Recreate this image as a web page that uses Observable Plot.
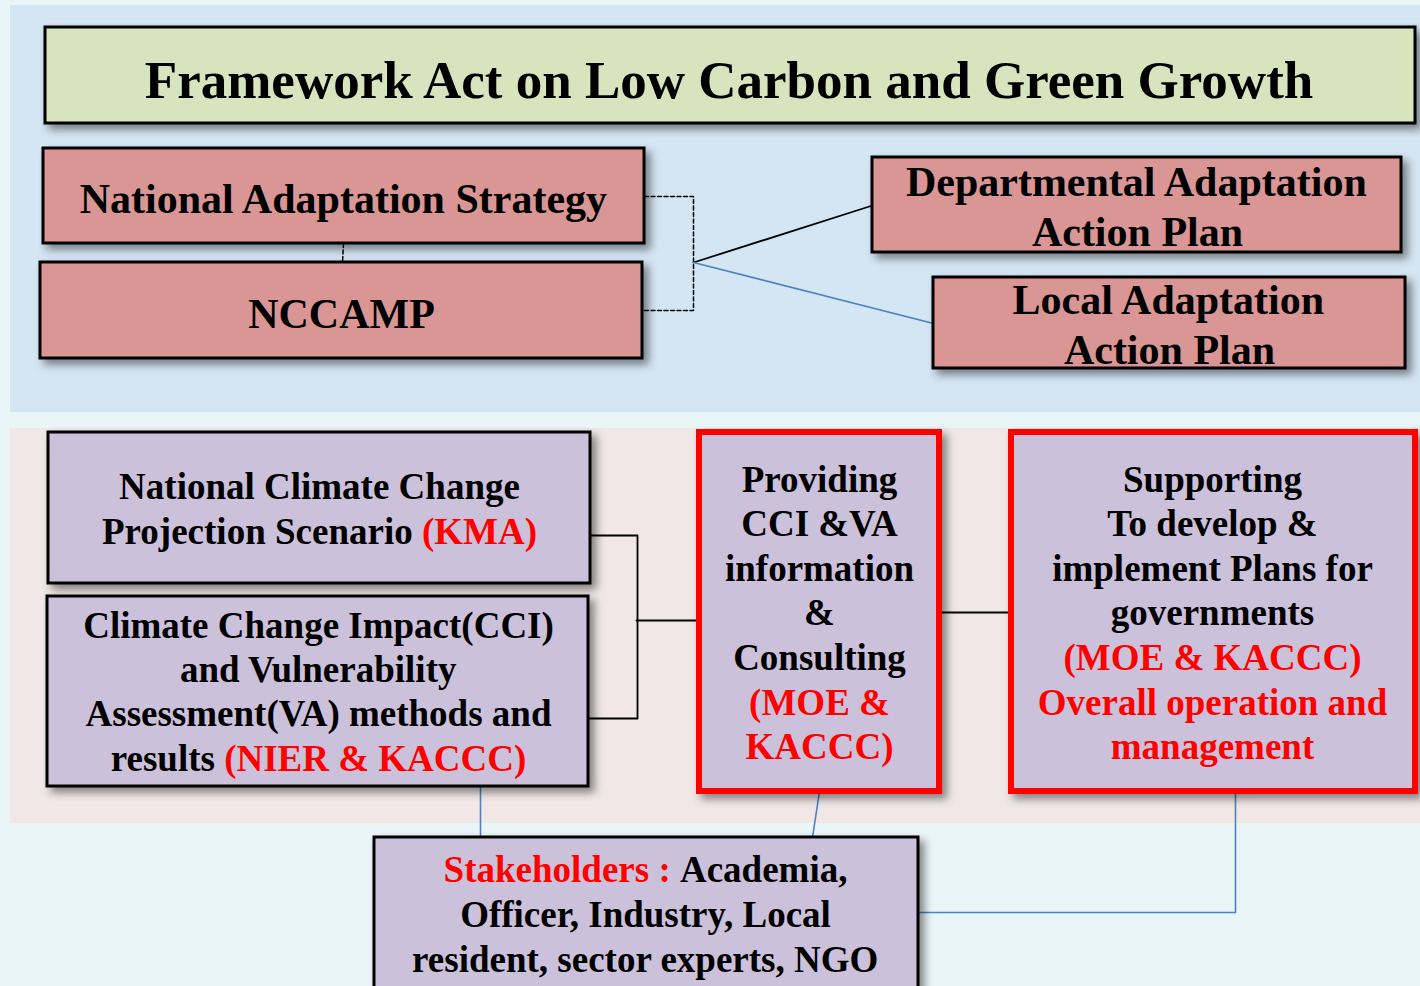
<!DOCTYPE html>
<html>
<head>
<meta charset="utf-8">
<script src="https://cdn.jsdelivr.net/npm/d3@7"></script>
<script src="https://cdn.jsdelivr.net/npm/@observablehq/plot@0.6"></script>
<style>
  html, body { margin: 0; padding: 0; background: #e8f4f6; overflow: hidden; }
  #chart svg { display: block; }
</style>
</head>
<body>
<div id="chart"></div>
<script>
const FONT = "'Liberation Serif','Times New Roman',serif";
const BLACK = "#000000", RED = "#ff0000", BLUE = "#4f81bd";

// Background panels
const panels = [
  {x1: 0, x2: 1420, y1: 0, y2: 986, fill: "#eaf5f7"},
  {x1: 10, x2: 1420, y1: 5, y2: 412, fill: "#d4e5f3"},
  {x1: 10, x2: 1420, y1: 428, y2: 823, fill: "#f1e7e7"}
];

// Boxes of the diagram
const boxes = [
  {id: "title",  x1: 45,   x2: 1415, y1: 27,  y2: 123, fill: "#d7e4bd", stroke: BLACK, sw: 3},
  {id: "nas",    x1: 43,   x2: 644,  y1: 148, y2: 243, fill: "#d99694", stroke: BLACK, sw: 3},
  {id: "nccamp", x1: 40,   x2: 642,  y1: 262, y2: 358, fill: "#d99694", stroke: BLACK, sw: 3},
  {id: "daap",   x1: 872,  x2: 1401, y1: 157, y2: 252, fill: "#d99694", stroke: BLACK, sw: 3},
  {id: "laap",   x1: 933,  x2: 1405, y1: 277, y2: 368, fill: "#d99694", stroke: BLACK, sw: 3},
  {id: "nccps",  x1: 48,   x2: 590,  y1: 432, y2: 583, fill: "#ccc1da", stroke: BLACK, sw: 3},
  {id: "cci",    x1: 47,   x2: 588,  y1: 596, y2: 786, fill: "#ccc1da", stroke: BLACK, sw: 3},
  {id: "prov",   x1: 699,  x2: 939,  y1: 432, y2: 791, fill: "#ccc1da", stroke: RED,   sw: 6},
  {id: "supp",   x1: 1011, x2: 1415, y1: 432, y2: 791, fill: "#ccc1da", stroke: RED,   sw: 6},
  {id: "stake",  x1: 374,  x2: 918,  y1: 837, y2: 1000, fill: "#ccc1da", stroke: BLACK, sw: 3}
];

// Connectors
const dashedLinks = [
  {id: "d1", pts: [[343, 243], [342, 262]]},
  {id: "d2", pts: [[644, 196], [693, 196], [693, 310], [642, 310]]}
];
const blackLinks = [
  {id: "b1", pts: [[693, 262], [872, 205]]},
  {id: "b2", pts: [[588, 535], [637, 535], [637, 718], [586, 718]]},
  {id: "b3", pts: [[636, 620], [699, 620]]},
  {id: "b4", pts: [[939, 612], [1011, 612]]}
];
const blueLinks = [
  {id: "u1", pts: [[693, 262], [933, 323]]},
  {id: "u2", pts: [[480, 786], [480, 837]]},
  {id: "u3", pts: [[819, 791], [812, 837]]},
  {id: "u4", pts: [[1235, 791], [1235, 912], [918, 912]]}
];

// Text lines: centre x, baseline y, font size, coloured segments
const textLines = [
  {cx: 730,  y: 97,  size: 53, segs: [["Framework Act on Low Carbon and Green Growth", BLACK]]},
  {cx: 344,  y: 212, size: 42, segs: [["National Adaptation Strategy", BLACK]]},
  {cx: 341,  y: 327, size: 42, segs: [["NCCAMP", BLACK]]},
  {cx: 1137, y: 195, size: 42, segs: [["Departmental Adaptation", BLACK]]},
  {cx: 1137, y: 245, size: 42, segs: [["Action Plan", BLACK]]},
  {cx: 1169, y: 313, size: 42, segs: [["Local Adaptation", BLACK]]},
  {cx: 1169, y: 363, size: 42, segs: [["Action Plan", BLACK]]},
  {cx: 319,  y: 498, size: 37, segs: [["National Climate Change", BLACK]]},
  {cx: 319,  y: 543, size: 37, segs: [["Projection Scenario ", BLACK], ["(KMA)", RED]]},
  {cx: 318,  y: 637, size: 37, segs: [["Climate Change Impact(CCI)", BLACK]]},
  {cx: 318,  y: 681, size: 37, segs: [["and Vulnerability", BLACK]]},
  {cx: 318,  y: 725, size: 37, segs: [["Assessment(VA) methods and", BLACK]]},
  {cx: 318,  y: 770, size: 37, segs: [["results ", BLACK], ["(NIER & KACCC)", RED]]},
  {cx: 819,  y: 491, size: 37, segs: [["Providing", BLACK]]},
  {cx: 819,  y: 535, size: 37, segs: [["CCI &VA", BLACK]]},
  {cx: 819,  y: 580, size: 37, segs: [["information", BLACK]]},
  {cx: 819,  y: 624, size: 37, segs: [["&", BLACK]]},
  {cx: 819,  y: 669, size: 37, segs: [["Consulting", BLACK]]},
  {cx: 819,  y: 714, size: 37, segs: [["(MOE &", RED]]},
  {cx: 819,  y: 758, size: 37, segs: [["KACCC)", RED]]},
  {cx: 1212, y: 491, size: 37, segs: [["Supporting", BLACK]]},
  {cx: 1212, y: 535, size: 37, segs: [["To develop &", BLACK]]},
  {cx: 1212, y: 580, size: 37, segs: [["implement Plans for", BLACK]]},
  {cx: 1212, y: 624, size: 37, segs: [["governments", BLACK]]},
  {cx: 1212, y: 669, size: 37, segs: [["(MOE & KACCC)", RED]]},
  {cx: 1212, y: 714, size: 37, segs: [["Overall operation and", RED]]},
  {cx: 1212, y: 758, size: 37, segs: [["management", RED]]},
  {cx: 645,  y: 881, size: 37, segs: [["Stakeholders : ", RED], ["Academia,", BLACK]]},
  {cx: 645,  y: 926, size: 37, segs: [["Officer, Industry, Local", BLACK]]},
  {cx: 645,  y: 971, size: 37, segs: [["resident, sector experts, NGO", BLACK]]}
];

// Build segment table (x start from measured widths)
const ctx = document.createElement("canvas").getContext("2d");
const segRows = [];
for (const line of textLines) {
  ctx.font = `bold ${line.size}px ${FONT}`;
  const widths = line.segs.map(([t]) => ctx.measureText(t).width);
  const total = widths.reduce((a, b) => a + b, 0);
  let x = line.cx - total / 2;
  line.segs.forEach(([t, c], i) => {
    segRows.push({x, y: line.y, text: t, color: c, size: line.size});
    x += widths[i];
  });
}

function toRows(links) {
  return links.flatMap(l => l.pts.map(([x, y]) => ({id: l.id, x, y})));
}

const sizes = [...new Set(segRows.map(d => d.size))];

const chart = Plot.plot({
  width: 1420,
  height: 986,
  margin: 0,
  x: {domain: [0, 1420], range: [0, 1420], axis: null},
  y: {domain: [0, 986], range: [0, 986], axis: null},
  style: {background: "#eaf5f7", fontFamily: FONT},
  marks: [
    Plot.rect(panels, {x1: "x1", x2: "x2", y1: "y1", y2: "y2", fill: d => d.fill}),
    Plot.line(toRows(dashedLinks), {x: "x", y: "y", z: "id", stroke: BLACK, strokeWidth: 1.5, strokeDasharray: "4,2.5"}),
    Plot.line(toRows(blackLinks), {x: "x", y: "y", z: "id", stroke: BLACK, strokeWidth: 1.8}),
    Plot.line(toRows(blueLinks), {x: "x", y: "y", z: "id", stroke: BLUE, strokeWidth: 1.6}),
    Plot.rect(boxes, {
      x1: "x1", x2: "x2", y1: "y1", y2: "y2",
      fill: d => d.fill, stroke: d => d.stroke, strokeWidth: d => d.sw,
      imageFilter: "drop-shadow(5px 5px 4px rgba(0,0,0,0.45))"
    }),
    ...sizes.map(s => Plot.text(segRows.filter(d => d.size === s), {
      x: "x", y: "y", text: "text", fill: d => d.color,
      textAnchor: "start", lineAnchor: "bottom",
      fontSize: s, fontWeight: "bold", fontFamily: FONT
    }))
  ]
});

document.getElementById("chart").appendChild(chart);
</script>
</body>
</html>
